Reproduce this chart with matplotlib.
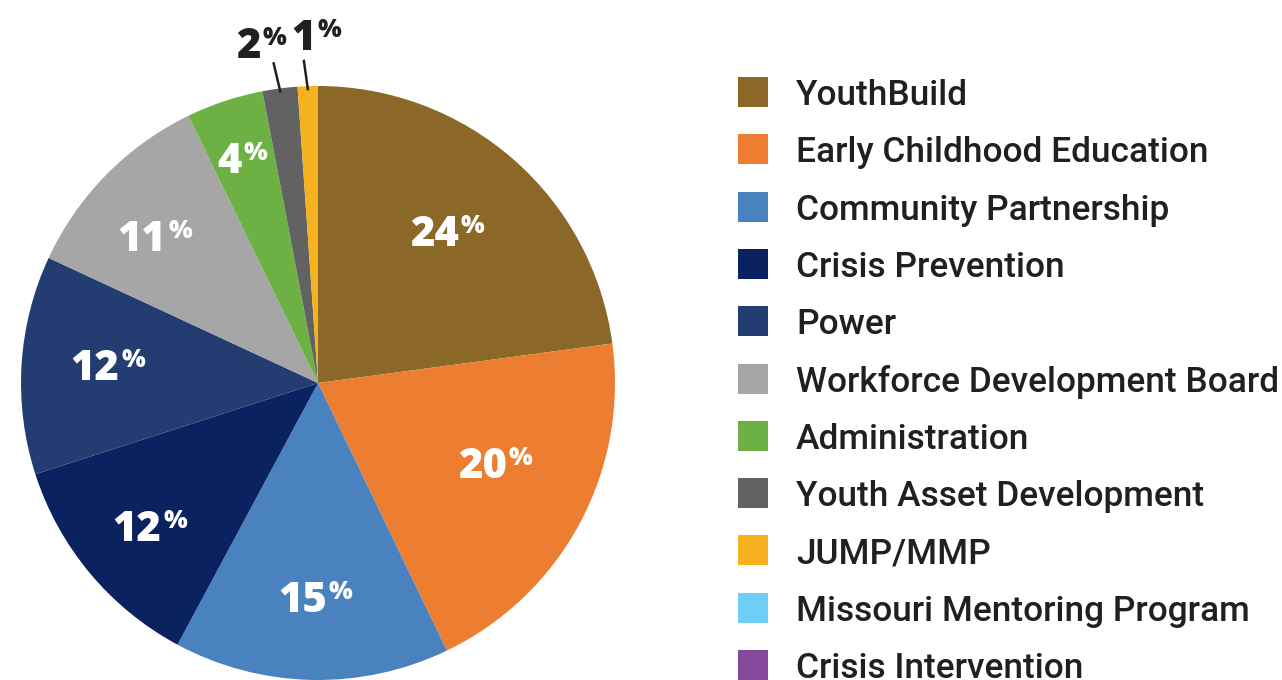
import numpy as np
import matplotlib
matplotlib.use("Agg")
import matplotlib.pyplot as plt
from matplotlib.patches import Rectangle

programs = [
    "YouthBuild",
    "Early Childhood Education",
    "Community Partnership",
    "Crisis Prevention",
    "Power",
    "Workforce Development Board",
    "Administration",
    "Youth Asset Development",
    "JUMP/MMP",
    "Missouri Mentoring Program",
    "Crisis Intervention",
]
shares = [22.9, 20.0, 15.0, 12.2, 11.9, 10.9, 4.2, 1.9, 1.1, 0.0, 0.0]
labels = ["24", "20", "15", "12", "12", "11", "4", "2", "1", "", ""]
colors = [
    "#8B6828", "#ED7D31", "#4A82C0", "#0A2260", "#233D73", "#A6A6A6",
    "#6DB144", "#626262", "#F5B21E", "#6DCFF6", "#84499A",
]

W, H = 1282, 680
fig = plt.figure(figsize=(W / 100, H / 100), dpi=100)

# pie centre (318, 383) px, radius 297 px
cx, cy, R = 318, 383, 297
ax = fig.add_axes([(cx - R) / W, (H - cy - R) / H, 2 * R / W, 2 * R / H])
wedges, _ = ax.pie(shares, colors=colors, startangle=90, counterclock=False,
                   radius=1, wedgeprops=dict(linewidth=0))
ax.set_xlim(-1, 1)
ax.set_ylim(-1, 1)
ax.set_aspect("equal")
ax.axis("off")

label_font = dict(family=["Open Sans", "DejaVu Sans"], weight=800, color="white")
# label baseline anchor: radius and angle shift (deg) from the wedge middle
label_r = [0.64, 0.685, 0.77, 0.77, 0.70, 0.70, 0.765]
label_shift = [-2.7, 0.4, 1.2, 3.9, 2.8, 5.1, 3.8]
# offsets (px) of small-slice labels from the leader line top
small_off = {7: (-13, 5), 8: (12, 11)}
pt = 0.72  # px -> points

for i, w in enumerate(wedges):
    if not labels[i]:
        continue
    mid = (w.theta1 + w.theta2) / 2
    if i < len(label_r):
        a = np.deg2rad(mid + label_shift[i])
        x = label_r[i] * np.cos(a) + 0.03
        y = label_r[i] * np.sin(a)
        ax.text(x, y, labels[i], ha="right", va="baseline", fontsize=30, **label_font)
        ax.annotate("%", (x, y), xytext=(1.5, 13 * pt), textcoords="offset points",
                    ha="left", va="baseline", fontsize=18, **label_font)
    else:
        # small slices: leader line and dark label outside
        a = np.deg2rad(mid)
        x0, y0 = 0.99 * np.cos(a), 0.99 * np.sin(a)
        x1, y1 = 1.085 * np.cos(a) - 0.01, 1.085 * np.sin(a)
        ax.plot([x0, x1], [y0, y1], color="#231F20", lw=1.8, clip_on=False)
        dx, dy = small_off[i]
        dark = dict(label_font, color="#231F20")
        ax.annotate(labels[i], (x1, y1), xytext=(dx * pt, dy * pt),
                    textcoords="offset points", ha="right", va="baseline",
                    fontsize=30, annotation_clip=False, **dark)
        ax.annotate("%", (x1, y1), xytext=(dx * pt + 1.5, (dy + 13) * pt),
                    textcoords="offset points", ha="left", va="baseline",
                    fontsize=18, annotation_clip=False, **dark)

# legend
for i, (name, col) in enumerate(zip(programs, colors)):
    yc = 92 + i * 57.3
    fig.patches.append(Rectangle(((738) / W, (H - yc - 15) / H), 30 / W, 30 / H,
                                 transform=fig.transFigure, facecolor=col,
                                 edgecolor="none"))
    fig.text(796 / W, (H - yc) / H, name, ha="left", va="center_baseline",
             fontsize=25.4, family="Roboto", weight="medium", color="#231F20")

fig.savefig("out.png", dpi=100)
